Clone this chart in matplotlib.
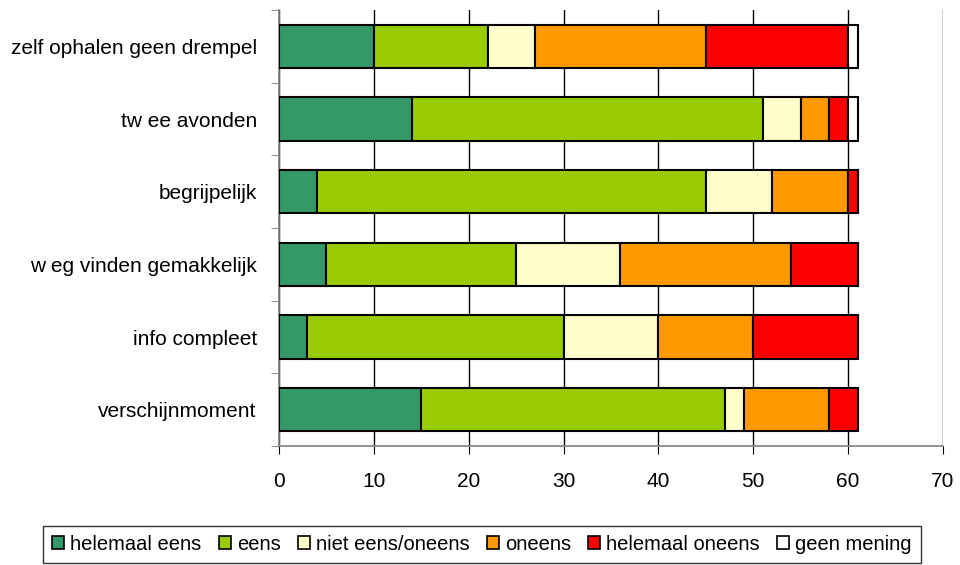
import numpy as np
import matplotlib
matplotlib.use("Agg")
import matplotlib.pyplot as plt

plt.rcParams['font.family'] = ['Liberation Sans', 'DejaVu Sans']

# categories, top to bottom
categories = ["zelf ophalen geen drempel", "tw ee avonden", "begrijpelijk",
              "w eg vinden gemakkelijk", "info compleet", "verschijnmoment"]

# answer series
series_names = ["helemaal eens", "eens", "niet eens/oneens", "oneens",
                "helemaal oneens", "geen mening"]
helemaal_eens = [10, 14, 4, 5, 3, 15]
eens = [12, 37, 41, 20, 27, 32]
niet_eens_oneens = [5, 4, 7, 11, 10, 2]
oneens = [18, 3, 8, 18, 10, 9]
helemaal_oneens = [15, 2, 1, 7, 11, 3]
geen_mening = [1, 1, 0, 0, 0, 0]

colors = ["#339966", "#99CC00", "#FFFFCC", "#FF9900", "#FF0000", "#FFFFFF"]
x_ticks = [0, 10, 20, 30, 40, 50, 60, 70]

values = [helemaal_eens, eens, niet_eens_oneens, oneens, helemaal_oneens, geen_mening]

fig = plt.figure(figsize=(9.6, 5.65), dpi=100)
ax = fig.add_axes([0.2906, 0.2106, 0.6917, 0.7717])

y = np.arange(len(categories))
left = np.zeros(len(categories))
for name, vals, col in zip(series_names, values, colors):
    vals = np.array(vals, dtype=float)
    ax.barh(y, vals, left=left, height=0.6, color=col, edgecolor="black",
            linewidth=1.5, label=name, zorder=3)
    left += vals

ax.set_ylim(len(categories) - 0.5, -0.5)
ax.set_xlim(0, 70)
ax.set_xticks(x_ticks)
ax.tick_params(axis='x', labelsize=15, length=6, pad=13, color="black")
ax.set_yticks(y)
ax.set_yticklabels(categories, fontsize=15)
ax.tick_params(axis='y', length=0, pad=16)
# small ticks at category boundaries
ax.set_yticks(np.arange(-0.5, len(categories)), minor=True)
ax.tick_params(axis='y', which='minor', length=6, color="#808080")

ax.grid(axis='x', color="black", linewidth=1.0, zorder=0)
for s in ["top", "right"]:
    ax.spines[s].set_visible(False)
ax.spines["left"].set_color("#808080")
ax.spines["bottom"].set_color("#808080")
ax.spines["left"].set_linewidth(1.2)
ax.spines["bottom"].set_linewidth(1.2)

leg = fig.legend(loc="lower center", bbox_to_anchor=(0.502, 0.0), ncol=6,
                 fontsize=14.5, frameon=True, fancybox=False,
                 handlelength=0.6, handleheight=0.6, handletextpad=0.3,
                 columnspacing=0.85, borderpad=0.45, borderaxespad=0.1)
leg.get_frame().set_edgecolor("black")
leg.get_frame().set_linewidth(1.0)
for h in leg.legend_handles:
    h.set_linewidth(1.2)

fig.savefig("out.png", dpi=100)
